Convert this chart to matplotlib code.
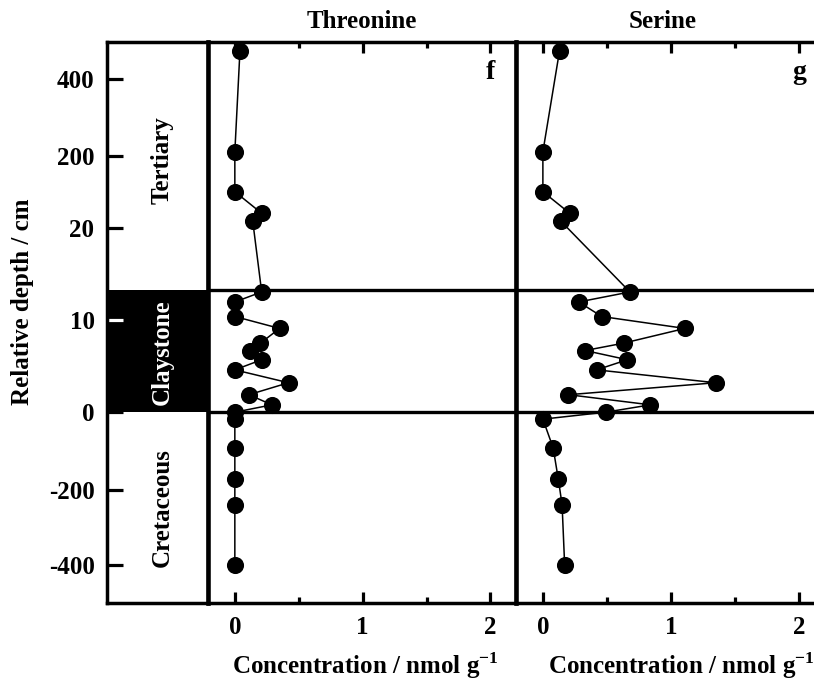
import numpy as np
import matplotlib
matplotlib.use("Agg")
import matplotlib.pyplot as plt
import matplotlib.transforms as mtransforms
from matplotlib.ticker import FixedLocator

plt.rcParams['font.family'] = ['Liberation Serif', 'DejaVu Serif']
plt.rcParams['font.weight'] = 'bold'
plt.rcParams['mathtext.fontset'] = 'custom'
plt.rcParams['mathtext.rm'] = 'Liberation Serif:bold'
plt.rcParams['mathtext.bf'] = 'Liberation Serif:bold'

# ---- data ----
depth = [476, 211, 111, 57, 37.5, 13.1, 12.0, 10.4, 9.1, 7.5, 6.7, 5.7, 4.6,
         3.2, 1.9, 0.8, 0.0, -18, -92, -172, -240, -399]
threonine = [0.04, 0.0, 0.0, 0.21, 0.14, 0.21, 0.0, 0.0, 0.35, 0.20, 0.12,
             0.21, 0.0, 0.42, 0.11, 0.29, 0.0, 0.0, 0.0, 0.0, 0.0, 0.0]
serine = [0.13, 0.0, 0.0, 0.21, 0.14, 0.68, 0.28, 0.46, 1.11, 0.63, 0.33,
          0.66, 0.42, 1.35, 0.20, 0.84, 0.49, 0.0, 0.08, 0.12, 0.15, 0.17]
ytick_vals = [400, 200, 20, 10, 0, -200, -400]
xtick_vals = [0, 1, 2]
panel_titles = ["Threonine", "Serine"]
panel_letters = ["f", "g"]
strata = ["Tertiary", "Claystone", "Cretaceous"]
clay_top = 13.3
clay_base = 0.0

# ---- piecewise depth axis (broken scale) ----
knot_depth = np.array([-500, -400, -200, 0, 10, 13.3, 20, 200, 400, 500], float)
knot_pos = -np.array([602.7, 565, 489.3, 412, 320, 290, 228, 156, 79, 42], float)

def fwd(d):
    return np.interp(d, knot_depth, knot_pos)

def inv(p):
    return np.interp(p, knot_pos, knot_depth)

W, H = 814, 684
fig = plt.figure(figsize=(W / 100, H / 100), dpi=100)

def rect(x0, x1, y0=42, y1=603):
    return [x0 / W, 1 - y1 / H, (x1 - x0) / W, (y1 - y0) / H]

ax0 = fig.add_axes(rect(107, 208))
ax1 = fig.add_axes(rect(208, 516))
ax2 = fig.add_axes(rect(516, 516 + 308.5))

SPW = 2.5
for ax in (ax0, ax1, ax2):
    ax.set_yscale('function', functions=(fwd, inv))
    ax.set_ylim(-500, 500)
    for s in ax.spines.values():
        s.set_linewidth(SPW)
for ax in (ax1, ax2):
    ax.spines['left'].set_linewidth(3.3)

# strata column
ax0.set_xlim(0, 1)
ax0.axhspan(clay_base, clay_top, color='black', lw=0, zorder=0.5)
ax0.set_xticks([])
ax0.yaxis.set_major_locator(FixedLocator(ytick_vals))
ax0.set_yticklabels([str(v) for v in ytick_vals])
ax0.yaxis.set_minor_locator(FixedLocator([]))
ax0.tick_params(axis='y', direction='in', length=11.5, width=2.3, pad=9,
                labelsize=18, left=True, right=False)
ax0.text(0.55, 0.79, strata[0], rotation=90, ha='center', va='center',
         fontsize=18, transform=ax0.transAxes)
ax0.text(0.55, 0.447, strata[1], rotation=90, ha='center', va='center',
         fontsize=18, color='white', transform=ax0.transAxes)
ax0.text(0.55, 0.17, strata[2], rotation=90, ha='center', va='center',
         fontsize=18, transform=ax0.transAxes)

# data panels
for ax, vals, title, letter, tx, lx in zip(
        (ax1, ax2), (threonine, serine), panel_titles, panel_letters,
        (361.5, 663), (365, 681)):
    ax.set_xlim(-0.21, 2.2)
    ax.plot(vals, depth, color='black', lw=1.1, marker='o', ms=11.3,
            mfc='black', mec='black', zorder=3, clip_on=False)
    ax.axhline(clay_top, color='black', lw=2.4, zorder=2)
    ax.axhline(clay_base, color='black', lw=2.4, zorder=2)
    ax.set_xticks(xtick_vals)
    ax.set_xticklabels([str(v) for v in xtick_vals])
    ax.xaxis.set_minor_locator(FixedLocator([0.5, 1.5]))
    ax.tick_params(axis='x', which='major', direction='in', length=8, width=2.3,
                   top=True, bottom=True, labelsize=18, pad=9)
    ax.tick_params(axis='x', which='minor', direction='in', length=4.5, width=2.3,
                   top=True, bottom=True)
    ax.tick_params(axis='y', which='both', left=False, right=False,
                   labelleft=False)
    ax.yaxis.set_minor_locator(FixedLocator([]))
    ax.yaxis.set_major_locator(FixedLocator(ytick_vals))
    ax.text(2.0, 0.945, letter, ha='center', va='center', fontsize=20,
            transform=mtransforms.blended_transform_factory(ax.transData, ax.transAxes))
    fig.text(tx / W, 1 - 22 / H, title, ha='center', va='center', fontsize=18)
    fig.text(lx / W, 1 - 666 / H, r"Concentration / nmol g$^{\mathbf{-1}}$",
             ha='center', va='center', fontsize=18)

fig.text(23 / W, 1 - 302 / H, "Relative depth / cm", rotation=90,
         ha='center', va='center', fontsize=18)

# white tick inside the black claystone band
fig.canvas.draw()
for t, v in zip(ax0.yaxis.get_major_ticks(), ytick_vals):
    if clay_base < v < clay_top:
        t.tick1line.set_color('white')
        t.tick1line.set_markeredgecolor('white')

fig.savefig("out.png", dpi=100)
